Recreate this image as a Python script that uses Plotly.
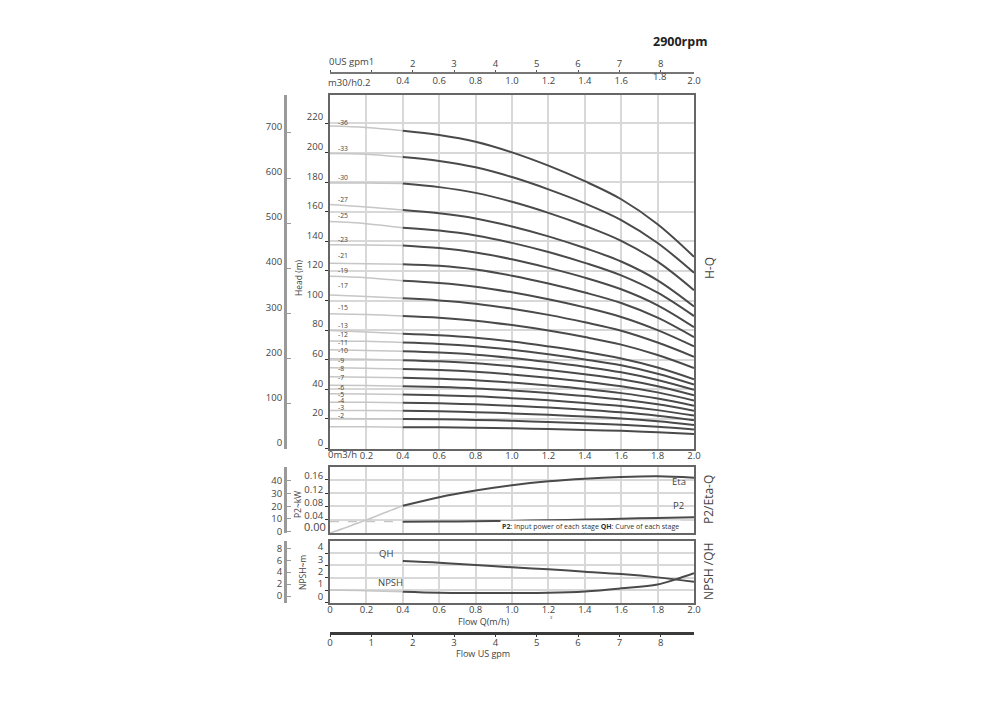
import plotly.graph_objects as go

FONT = "Open Sans"

# ---------------- data ----------------
Q = [0.0, 0.2, 0.4, 0.6, 0.8, 1.0, 1.2, 1.4, 1.6, 1.8, 2.0]          # flow m3/h
X_TICKS = [0.0, 0.2, 0.4, 0.6, 0.8, 1.0, 1.2, 1.4, 1.6, 1.8, 2.0]
GPM_TICKS = [0, 1, 2, 3, 4, 5, 6, 7, 8]
HEAD_TICKS = [0, 20, 40, 60, 80, 100, 120, 140, 160, 180, 200, 220]
FEET_TICKS = [0, 100, 200, 300, 400, 500, 600, 700]
ETA_TICKS = [0.04, 0.08, 0.12, 0.16]
KW_TICKS = [0, 10, 20, 30, 40]
NPSH_TICKS = [0, 1, 2, 3, 4]
NPSH_OUTER_TICKS = [0, 2, 4, 6, 8]
GPM_PER_M3H = 4.4029

STAGES = ["-36", "-33", "-30", "-27", "-25", "-23", "-21", "-19", "-17", "-15", "-13",
          "-12", "-11", "-10", "-9", "-8", "-7", "-6", "-5", "-4", "-3", "-2"]

H_36 = [218.0, 217.1, 214.9, 212.0, 207.4, 200.2, 191.2, 180.7, 168.5, 151.6, 129.6]
H_33 = [199.5, 199.0, 197.0, 194.4, 190.1, 183.5, 175.2, 165.7, 154.4, 138.9, 118.8]
H_30 = [179.5, 179.5, 179.1, 176.7, 172.8, 166.8, 159.3, 150.6, 140.4, 126.3, 107.0]
H_27 = [165.0, 163.3, 161.2, 159.0, 155.5, 150.1, 143.4, 135.5, 126.4, 113.7, 96.0]
H_25 = [153.4, 152.0, 149.3, 147.3, 144.0, 139.0, 132.8, 125.5, 117.0, 105.3, 89.5]
H_23 = [137.8, 137.6, 137.3, 135.5, 132.5, 127.9, 122.1, 115.5, 107.6, 96.8, 82.0]
H_21 = [125.2, 124.9, 124.6, 123.5, 121.0, 116.8, 111.5, 105.4, 98.3, 88.4, 75.2]
H_19 = [116.4, 115.5, 113.4, 111.9, 109.4, 105.6, 100.9, 95.4, 88.9, 80.0, 69.0]
H_17 = [103.8, 102.8, 101.5, 100.1, 97.9, 94.5, 90.3, 85.3, 79.6, 71.6, 62.0]
H_15 = [91.0, 90.5, 89.6, 88.4, 86.4, 83.4, 79.7, 75.3, 70.2, 63.2, 54.4]
H_13 = [79.7, 78.8, 77.6, 76.6, 74.9, 72.3, 69.0, 65.3, 60.8, 54.7, 46.8]
H_12 = [72.7, 72.4, 71.6, 70.7, 69.1, 66.7, 63.7, 60.2, 56.2, 50.5, 43.2]
H_11 = [66.7, 66.3, 65.7, 64.8, 63.4, 61.2, 58.4, 55.2, 51.5, 46.3, 39.6]
H_10 = [60.6, 60.3, 59.7, 58.9, 57.6, 55.6, 53.1, 50.2, 46.8, 42.1, 36.0]
H_9 = [54.5, 54.3, 53.7, 53.0, 51.8, 50.0, 47.8, 45.2, 42.1, 37.9, 32.4]
H_8 = [48.5, 48.2, 47.8, 47.1, 46.1, 44.5, 42.5, 40.2, 37.4, 33.7, 28.8]
H_7 = [42.7, 42.5, 42.1, 41.5, 40.6, 39.2, 37.5, 35.4, 33.1, 29.8, 25.5]
H_6 = [37.0, 36.8, 36.4, 35.9, 35.2, 34.0, 32.5, 30.7, 28.7, 25.9, 22.2]
H_5 = [31.3, 31.2, 30.9, 30.5, 29.8, 28.8, 27.6, 26.1, 24.4, 22.1, 19.0]
H_4 = [25.7, 25.6, 25.4, 25.1, 24.5, 23.7, 22.7, 21.6, 20.2, 18.3, 15.9]
H_3 = [20.2, 20.1, 19.9, 19.7, 19.3, 18.7, 17.9, 17.1, 16.0, 14.6, 12.8]
H_2 = [14.6, 14.6, 14.4, 14.3, 14.0, 13.6, 13.1, 12.5, 11.9, 10.9, 9.7]

HEAD_CURVES = [H_36, H_33, H_30, H_27, H_25, H_23, H_21, H_19, H_17, H_15, H_13,
               H_12, H_11, H_10, H_9, H_8, H_7, H_6, H_5, H_4, H_3, H_2]

# efficiency / power
Q_ETA_LOW = [0.0, 0.1, 0.2, 0.3, 0.4]
ETA_LOW = [0.0, 0.019, 0.039, 0.061, 0.082]
Q_ETA = [0.4, 0.6, 0.8, 1.0, 1.2, 1.4, 1.6, 1.8, 2.0]
ETA = [0.082, 0.108, 0.128, 0.144, 0.156, 0.164, 0.169, 0.171, 0.167]
Q_P2_LOW = [0.0, 0.4]
P2_LOW = [7.9, 7.9]
Q_P2 = [0.4, 0.6, 0.8, 1.0, 1.2, 1.4, 1.6, 1.8, 2.0]
P2 = [7.9, 8.0, 8.2, 8.5, 9.0, 9.5, 10.2, 10.8, 11.3]

# NPSH / per-stage QH
Q_QH = [0.4, 0.6, 0.8, 1.0, 1.2, 1.4, 1.6, 1.8, 2.0]
QH = [3.36, 3.22, 3.03, 2.85, 2.68, 2.49, 2.30, 2.03, 1.67]
Q_NPSH_LOW = [0.0, 0.2, 0.4]
NPSH_LOW = [1.0, 0.95, 0.86]
Q_NPSH = [0.4, 0.6, 0.8, 1.0, 1.2, 1.4, 1.6, 1.8, 1.9, 2.0]
NPSH = [0.86, 0.78, 0.76, 0.76, 0.78, 0.89, 1.14, 1.46, 1.87, 2.36]

# ---------------- styling / layout ----------------
TXT = "#444444"
GRID = "#d8d8d8"
DARK = "#4a4a4a"
LIGHT = "#c6c6c6"
FRAME = "#666666"
OUTER = "#9a9a9a"

LABEL_Y = [220.5, 202.5, 182.9, 168.4, 157.2, 141.6, 130.8, 120.3, 110.1, 95.1, 83.1,
           77.0, 71.6, 66.0, 59.5, 53.8, 47.8, 41.0, 36.8, 32.4, 27.5, 22.3]

# the page body has an 8px margin: the figure is sized so that the page is 1000x712
OFF = 8
W, H = 1000 - 2 * OFF, 712 - 2 * OFF


def py(y):
    return 1 - (y - OFF) / H


def px(x):
    return (x - OFF) / W


X0, X1 = px(330), px(694)
MAIN_DOM = [py(448.5), py(95)]
MID_DOM = [py(533), py(466.7)]
BOT_DOM = [py(602.5), py(540.7)]
OUTER_POS = px(285)

fig = go.Figure()

n_low = Q.index(0.4) + 1
for heads in HEAD_CURVES:
    fig.add_trace(go.Scatter(x=Q[:n_low], y=heads[:n_low], mode="lines",
                             line=dict(color=LIGHT, width=1.5, shape="spline"),
                             hoverinfo="skip", showlegend=False, xaxis="x", yaxis="y"))
    fig.add_trace(go.Scatter(x=Q[n_low - 1:], y=heads[n_low - 1:], mode="lines",
                             line=dict(color=DARK, width=2, shape="spline"),
                             hoverinfo="skip", showlegend=False, xaxis="x", yaxis="y"))

# efficiency
fig.add_trace(go.Scatter(x=Q_ETA_LOW, y=ETA_LOW, mode="lines",
                         line=dict(color=LIGHT, width=1.5, shape="spline"),
                         showlegend=False, hoverinfo="skip", xaxis="x2", yaxis="y3"))
fig.add_trace(go.Scatter(x=Q_ETA, y=ETA, mode="lines",
                         line=dict(color=DARK, width=2, shape="spline", smoothing=1.0),
                         showlegend=False, hoverinfo="skip", xaxis="x2", yaxis="y3"))
# power
fig.add_trace(go.Scatter(x=Q_P2_LOW, y=P2_LOW, mode="lines",
                         line=dict(color=LIGHT, width=1.2, dash="dash"),
                         showlegend=False, hoverinfo="skip", xaxis="x2", yaxis="y4"))
fig.add_trace(go.Scatter(x=Q_P2, y=P2, mode="lines",
                         line=dict(color=DARK, width=2, shape="spline"),
                         showlegend=False, hoverinfo="skip", xaxis="x2", yaxis="y4"))
# NPSH + QH
fig.add_trace(go.Scatter(x=Q_QH, y=QH, mode="lines",
                         line=dict(color=DARK, width=2, shape="spline"),
                         showlegend=False, hoverinfo="skip", xaxis="x3", yaxis="y5"))
fig.add_trace(go.Scatter(x=Q_NPSH_LOW, y=NPSH_LOW, mode="lines",
                         line=dict(color=LIGHT, width=1.5, shape="spline"),
                         showlegend=False, hoverinfo="skip", xaxis="x3", yaxis="y5"))
fig.add_trace(go.Scatter(x=Q_NPSH, y=NPSH, mode="lines",
                         line=dict(color=DARK, width=2, shape="spline"),
                         showlegend=False, hoverinfo="skip", xaxis="x3", yaxis="y5"))

# invisible anchors so the extra axes get drawn
for xa, ya in [("x", "y2"), ("x2", "y4"), ("x3", "y6"), ("x4", "y"), ("x5", "y"), ("x6", "y5")]:
    fig.add_trace(go.Scatter(x=[0], y=[0], mode="markers", marker=dict(opacity=0, size=1),
                             hoverinfo="skip", showlegend=False, xaxis=xa, yaxis=ya))

tf = dict(family=FONT, size=9.5, color=TXT)


def fmt(v):
    return "%.1f" % v


common_x = dict(domain=[X0, X1], range=[0, 2], showgrid=True, gridcolor=GRID, gridwidth=1.5,
                tickvals=X_TICKS, zeroline=False, showline=True, mirror=True,
                linecolor=FRAME, linewidth=2, ticks="", tickfont=tf, automargin=False)
common_y = dict(showgrid=True, gridcolor=GRID, gridwidth=1.5, zeroline=False, showline=True,
                mirror=True, linecolor=FRAME, linewidth=2, ticks="outside", ticklen=3,
                tickcolor="#333", tickfont=tf, automargin=False)
outer_y = dict(anchor="free", position=OUTER_POS, side="left", showgrid=False, zeroline=False,
               showline=True, linecolor=OUTER, linewidth=3, ticks="inside", ticklen=4,
               tickcolor=OUTER, tickfont=tf, automargin=False)

fig.update_layout(
    width=W, height=H, autosize=False,
    margin=dict(l=0, r=0, t=0, b=0, pad=0, autoexpand=False),
    paper_bgcolor="white", plot_bgcolor="white",
    showlegend=False,
    font=dict(family=FONT, color=TXT),
    xaxis=dict(common_x, anchor="y", ticklabelstandoff=-3,
               ticktext=[""] + [fmt(v) for v in X_TICKS[1:]]),
    yaxis=dict(common_y, domain=MAIN_DOM, anchor="x", range=[-0.05, 239],
               tickvals=HEAD_TICKS, ticklabelshift=-6),
    yaxis2=dict(outer_y, overlaying="y", range=[0, 239 / 0.3048],
                tickvals=FEET_TICKS, ticklabelshift=-6),
    xaxis2=dict(common_x, anchor="y3", showticklabels=False),
    yaxis3=dict(common_y, domain=MID_DOM, anchor="x2", range=[0, 0.2],
                tickvals=ETA_TICKS, ticktext=["%.2f" % v for v in ETA_TICKS], ticklabelshift=-4),
    yaxis4=dict(outer_y, overlaying="y3", range=[-1, 51], tickvals=KW_TICKS),
    xaxis3=dict(common_x, anchor="y5", ticklabelstandoff=-3,
                ticktext=["0"] + [fmt(v) for v in X_TICKS[1:]]),
    yaxis5=dict(common_y, domain=BOT_DOM, anchor="x3", range=[-0.005, 5],
                tickvals=NPSH_TICKS, ticklabelshift=-6),
    yaxis6=dict(outer_y, overlaying="y5", range=[-1.09, 9.28], tickvals=NPSH_OUTER_TICKS),
    xaxis4=dict(overlaying="x", anchor="free", position=py(73.3), side="top",
                range=[0, 2 * GPM_PER_M3H], tickvals=GPM_TICKS,
                ticktext=["", ""] + [str(v) for v in GPM_TICKS[2:]],
                showline=True, linecolor="#777", linewidth=2, ticks="outside", ticklen=2,
                tickcolor="#555", showgrid=False, zeroline=False, tickfont=tf, automargin=False),
    xaxis5=dict(overlaying="x", anchor="free", position=py(73.3), side="bottom",
                range=[0, 2], tickvals=X_TICKS[2:],
                ticktext=[("" if abs(v - 1.8) < 1e-9 else fmt(v)) for v in X_TICKS[2:]],
                showline=False, ticks="", showgrid=False, zeroline=False, tickfont=tf,
                automargin=False),
    xaxis6=dict(overlaying="x3", anchor="free", position=py(633.3), side="bottom",
                range=[0, 2 * GPM_PER_M3H], tickvals=GPM_TICKS, ticklabelstandoff=-2,
                showline=True, linecolor="#3a3a3a", linewidth=2.5, ticks="outside", ticklen=2,
                tickcolor="#333", showgrid=False, zeroline=False, tickfont=tf, automargin=False),
)


def ann(text, x, y, size=9.5, xanchor="center", yanchor="middle", angle=0, color=TXT, **kw):
    return dict(text=text, x=px(x), y=py(y), xref="paper", yref="paper", showarrow=False,
                font=dict(family=FONT, size=size, color=color), xanchor=xanchor,
                yanchor=yanchor, textangle=angle, **kw)


annotations = [
    ann("<b>2900rpm</b>", 680, 41, size=12.5, color="#222"),
    ann("0US gpm1", 327, 62, xanchor="left"),
    ann("m30/h0.2", 326, 83, xanchor="left"),
    ann("1.8", 659, 76),
    ann("0m3/h", 326, 454, xanchor="left"),
    ann("Head (m)", 298, 278, size=8.5, angle=-90),
    ann("P2~kW", 297, 505, size=8.5, angle=-90),
    ann("NPSH~m", 302, 573, size=8.5, angle=-90),
    ann("0.00", 328, 526.5, size=11, xanchor="right"),
    ann("Eta", 679, 481),
    ann("P2", 678, 505),
    ann("<b>P2</b>: Input power of each stage <b>QH</b>: Curve of each stage", 681, 526.5,
        size=7, xanchor="right", color="#333", bgcolor="white"),
    ann("QH", 386, 553),
    ann("NPSH", 390, 582),
    ann("H-Q", 709, 268, size=12, angle=-90),
    ann("P2/Eta-Q", 708, 500, size=12, angle=-90),
    ann("NPSH /QH", 708, 572, size=12, angle=-90),
    ann("Flow Q(m/h)", 483, 621, size=9),
    ann("3", 551, 617, size=4),
    ann("Flow US gpm", 483, 653, size=9),
]

for lab, ly in zip(STAGES, LABEL_Y):
    annotations.append(dict(text=lab, x=0.033, y=ly, xref="x", yref="y", showarrow=False,
                            xanchor="left", yanchor="middle",
                            font=dict(family=FONT, size=6.8, color=TXT)))

fig.update_layout(annotations=annotations)

fig.write_html("out.html")
